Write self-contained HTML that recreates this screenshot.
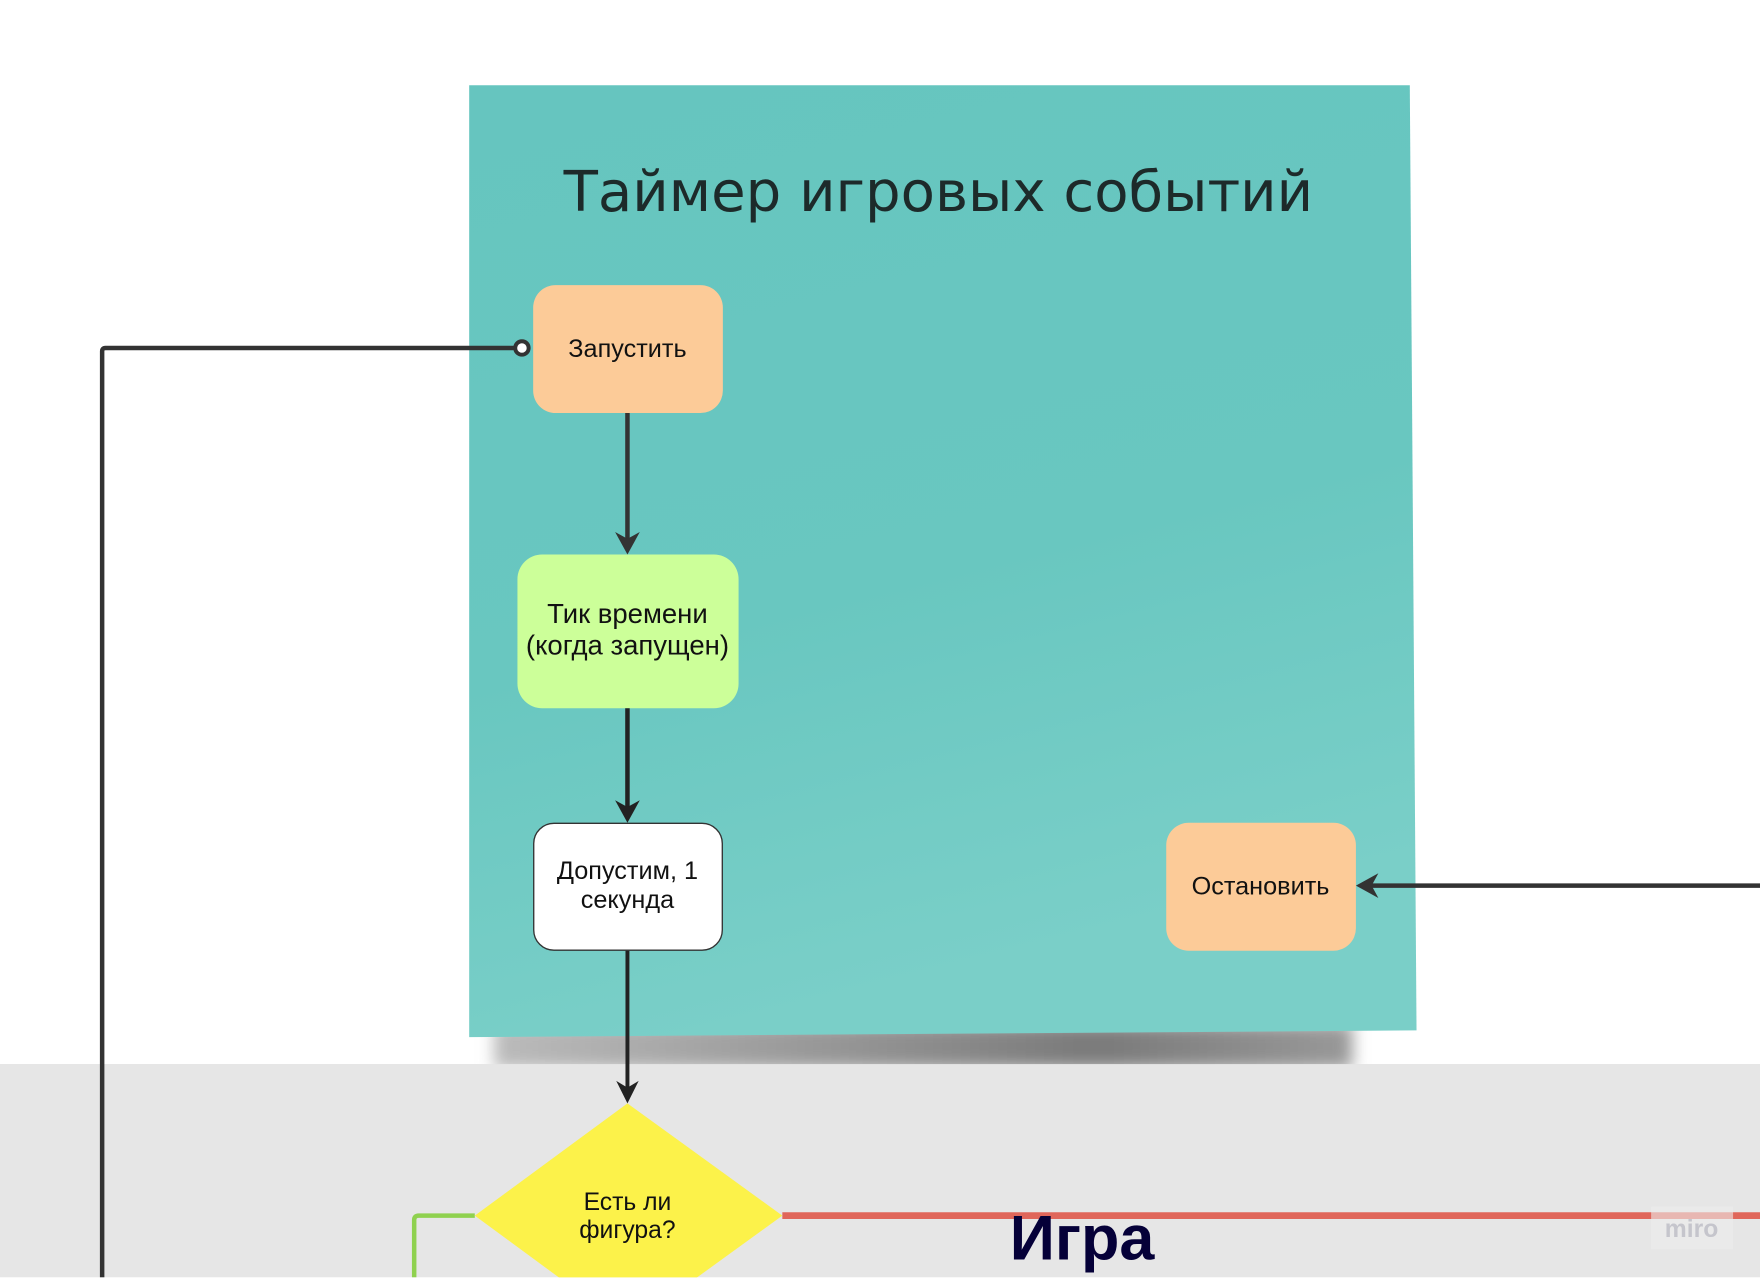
<!DOCTYPE html>
<html><head><meta charset="utf-8"><style>
html,body{margin:0;padding:0;width:1760px;height:1277px;overflow:hidden;background:#fff}
#w{position:absolute;left:0;top:0;width:1568px;height:1138px;transform:scale(1.12245);transform-origin:0 0}
</style></head><body><div id="w">
<svg width="1568" height="1138" xmlns="http://www.w3.org/2000/svg" font-family="Liberation Sans, sans-serif">
<defs>
<linearGradient id="pg" x1="0" y1="0" x2="0.25" y2="1">
<stop offset="0" stop-color="#66c5bf"/><stop offset="0.6" stop-color="#69c7c0"/><stop offset="1" stop-color="#7acfc8"/></linearGradient>
<linearGradient id="sh" x1="0" y1="0" x2="1" y2="0">
<stop offset="0" stop-color="#bbb"/><stop offset="0.7" stop-color="#7a7a7a"/><stop offset="1" stop-color="#999"/></linearGradient>
<filter id="bl"><feGaussianBlur stdDeviation="7"/></filter>
</defs>
<rect x="0" y="948" width="1568" height="190" fill="#e6e6e6"/>
<rect x="440" y="912" width="765" height="40" fill="url(#sh)" filter="url(#bl)"/>
<rect x="0" y="948" width="1568" height="14" fill="#e6e6e6"/>
<path d="M418 76 L1256 76 L1262 918 L418 924 Z" fill="url(#pg)"/>
<text x="836" y="188" font-size="50" text-anchor="middle" fill="#1d2a2a" font-family="DejaVu Sans, Liberation Sans, sans-serif">Таймер игровых событий</text>
<path d="M465 310 L94 310 Q91 310 91 313 L91 1138" fill="none" stroke="#333" stroke-width="4"/>
<rect x="475" y="254" width="169" height="114" rx="20" fill="#fccb98"/>
<circle cx="465" cy="310" r="6" fill="#fff" stroke="#333" stroke-width="3.5"/>
<text x="559" y="318" font-size="22.5" text-anchor="middle" fill="#111">Запустить</text>
<line x1="559" y1="368" x2="559" y2="488" stroke="#333" stroke-width="4"/>
<path d="M548 474 L559 494 L570 474 L559 480 Z" fill="#333"/>
<rect x="461" y="494" width="197" height="137" rx="22" fill="#ccff99"/>
<text x="559" y="555" font-size="24.5" text-anchor="middle" fill="#111">Тик времени</text>
<text x="559" y="583" font-size="24.5" text-anchor="middle" fill="#111">(когда запущен)</text>
<line x1="559" y1="631" x2="559" y2="727" stroke="#222" stroke-width="4"/>
<path d="M548 713 L559 733 L570 713 L559 719 Z" fill="#222"/>
<rect x="475.5" y="733.5" width="168" height="113" rx="18" fill="#fff" stroke="#333" stroke-width="1.2"/>
<text x="559" y="783" font-size="22.5" text-anchor="middle" fill="#111">Допустим, 1</text>
<text x="559" y="809" font-size="22.5" text-anchor="middle" fill="#111">секунда</text>
<line x1="559" y1="847" x2="559" y2="977" stroke="#222" stroke-width="3.5"/>
<path d="M549 963 L559 983 L569 963 L559 969 Z" fill="#222"/>
<rect x="1039" y="733" width="169" height="114" rx="20" fill="#fccb98"/>
<text x="1123" y="797" font-size="22.5" text-anchor="middle" fill="#111">Остановить</text>
<line x1="1568" y1="789" x2="1214" y2="789" stroke="#333" stroke-width="4"/>
<path d="M1228 778 L1208 789 L1228 800 L1222 789 Z" fill="#333"/>
<path d="M423 1083 L373 1083 Q369 1083 369 1087 L369 1138" fill="none" stroke="#8fd14f" stroke-width="4"/>
<line x1="697" y1="1083" x2="1568" y2="1083" stroke="#e0665a" stroke-width="6"/>
<path d="M559 983 L697 1083 L559 1183 L423 1083 Z" fill="#fcf24a"/>
<text x="559" y="1078" font-size="22" text-anchor="middle" fill="#111">Есть ли</text>
<text x="559" y="1103" font-size="22" text-anchor="middle" fill="#111">фигура?</text>
<text x="964" y="1122" font-size="56" font-weight="bold" text-anchor="middle" fill="#050038">Игра</text>
<rect x="1471" y="1075" width="73" height="38" fill="#ededed" opacity="0.6"/>
<text x="1507" y="1102" font-size="22" text-anchor="middle" fill="#c5c5cc" font-weight="bold">miro</text>
</svg></div></body></html>
